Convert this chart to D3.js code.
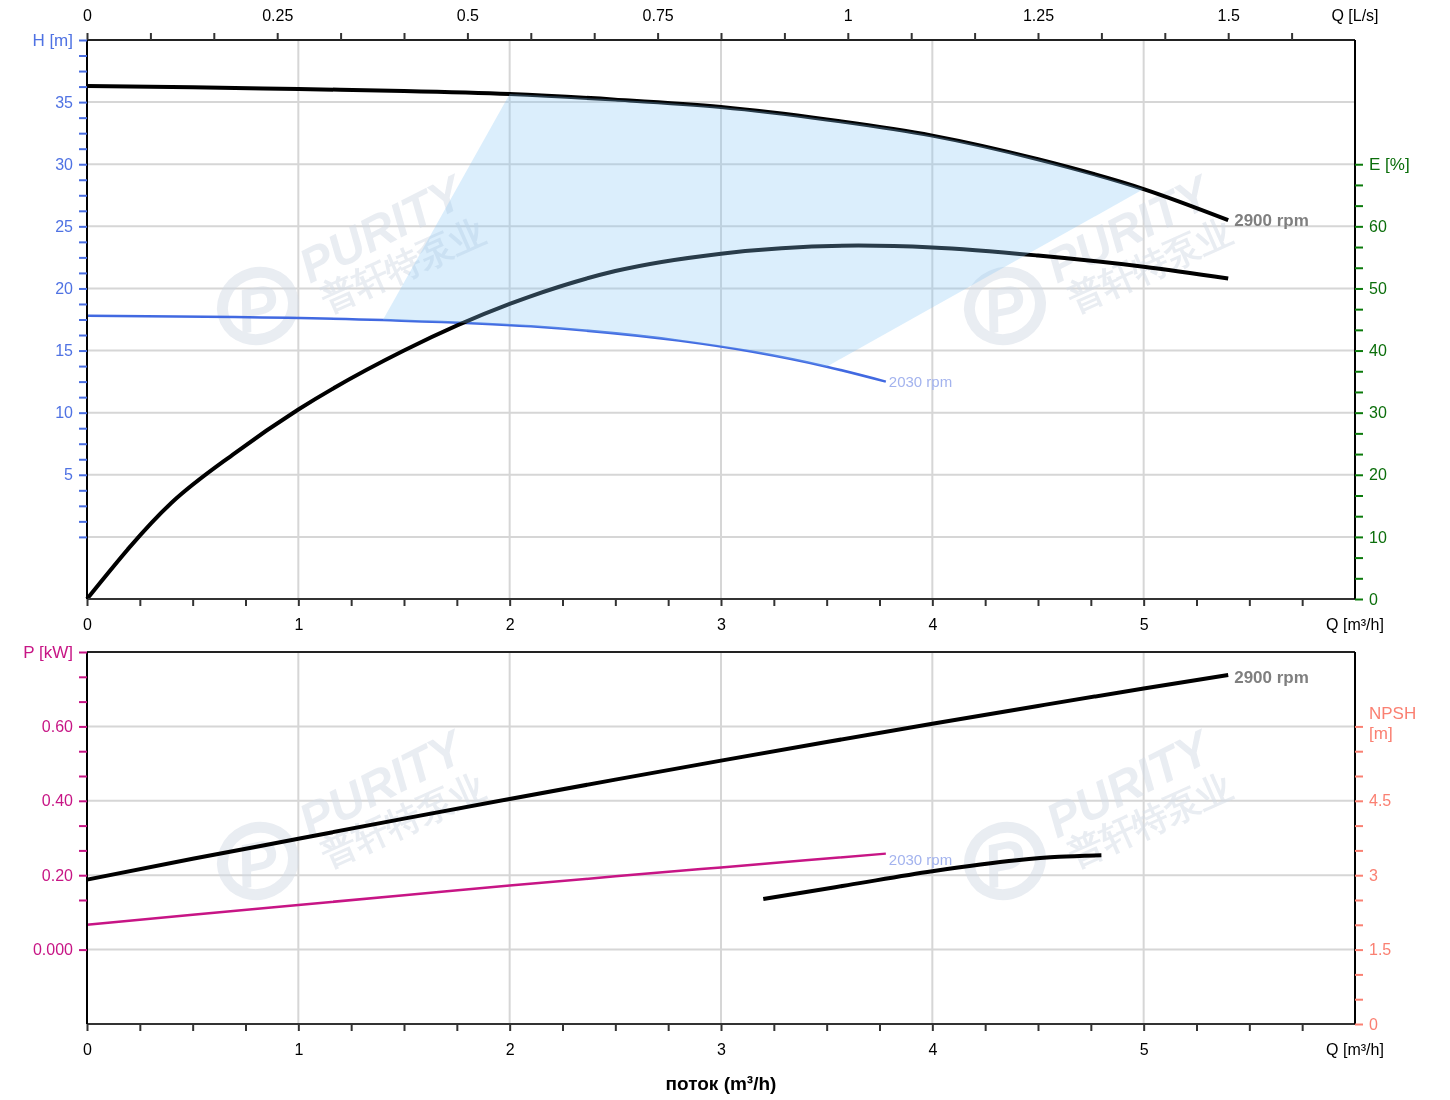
<!DOCTYPE html>
<html>
<head>
<meta charset="utf-8">
<script src="https://cdn.jsdelivr.net/npm/d3@7"></script>
<style>
  body { margin: 0; background: #fff; }
  svg text { font-family: "Liberation Sans", Arial, sans-serif; }
  .axis path.domain { display: none; }
</style>
</head>
<body>
<svg id="chart" width="1450" height="1100"></svg>
<script>
// ---- data ----
const flow2900 = [0, 0.5, 1, 1.5, 2, 2.5, 3, 3.5, 4, 4.5, 5, 5.4];
const head2900 = [36.3, 36.2, 36.05, 35.9, 35.65, 35.2, 34.6, 33.6, 32.3, 30.4, 28.0, 25.5];

const flow2030 = [0, 0.7, 1.4, 2.1, 2.8, 3.15, 3.5, 3.78];
const head2030 = [17.8, 17.7, 17.45, 16.95, 15.8, 14.9, 13.7, 12.5];

const effFlow = [0, 0.4, 0.7, 1, 1.5, 2, 2.5, 3, 3.65, 4, 4.5, 5, 5.4];
const effValues = [0, 15.5, 23.5, 30.5, 40, 47.5, 52.8, 55.6, 56.9, 56.6, 55.3, 53.5, 51.6];

const power2900 = [0.188, 0.244, 0.298, 0.352, 0.405, 0.457, 0.508, 0.558, 0.607, 0.655, 0.702, 0.738];
const power2030 = [0.067, 0.094, 0.12, 0.146, 0.172, 0.197, 0.221, 0.24, 0.258];
const powerFlow2030 = [0, 0.5, 1, 1.5, 2, 2.5, 3, 3.4, 3.78];

const npshFlow = [3.2, 3.6, 4, 4.4, 4.6, 4.8];
const npshValues = [2.52, 2.8, 3.08, 3.3, 3.37, 3.4];

// operating range (fill) corners, in flow
const rangeHigh = [2, 5];   // on 2900 rpm curve
const rangeLow = [1.4, 3.5]; // on 2030 rpm curve

// tick labels
const flowLabels = [0, 1, 2, 3, 4, 5];
const lsLabels = [0, 0.25, 0.5, 0.75, 1, 1.25, 1.5];
const headLabels = [5, 10, 15, 20, 25, 30, 35];
const effLabels = [0, 10, 20, 30, 40, 50, 60];
const powerLabels = [0, 0.2, 0.4, 0.6];
const npshLabels = [0, 1.5, 3, 4.5];

// ---- layout ----
const left = 87, right = 1355;
const top1 = 40, bottom1 = 599;
const top2 = 652, bottom2 = 1024;
const fs = 16;

const svg = d3.select("#chart");

const x = d3.scaleLinear().domain([0, 6]).range([left, right]);
const xLs = d3.scaleLinear().domain([0, 6 / 3.6]).range([left, right]);
const yH = d3.scaleLinear().domain([-5, 40]).range([bottom1, top1]);
const yE = d3.scaleLinear().domain([0, 90]).range([bottom1, top1]);
const yP = d3.scaleLinear().domain([-0.2, 0.8]).range([bottom2, top2]);
const yN = d3.scaleLinear().domain([0, 7.5]).range([bottom2, top2]);

const near = (a, b) => Math.abs(a - b) < 1e-6;
const fmtIf = (labels, fmt) => v => labels.some(l => near(l, v)) ? fmt(v) : "";

// ---- grid ----
const grid = svg.append("g").attr("stroke", "#d6d6d6").attr("stroke-width", 2);
[[top1, bottom1], [top2, bottom2]].forEach(([t, b]) => {
    grid.selectAll(null).data([1, 2, 3, 4, 5]).enter().append("line")
        .attr("x1", d => x(d)).attr("x2", d => x(d))
        .attr("y1", t).attr("y2", b);
});
grid.selectAll(null).data([0, 5, 10, 15, 20, 25, 30, 35]).enter().append("line")
    .attr("x1", left).attr("x2", right)
    .attr("y1", d => yH(d)).attr("y2", d => yH(d));
grid.selectAll(null).data([0, 0.2, 0.4, 0.6]).enter().append("line")
    .attr("x1", left).attr("x2", right)
    .attr("y1", d => yP(d)).attr("y2", d => yP(d));

// ---- watermark ----
function watermark(dx, dy) {
    const g = svg.append("g").attr("transform", `translate(${dx},${dy})`)
        .attr("fill", "#d3dae5").attr("opacity", 0.5);
    // logo swoosh
    g.append("ellipse").attr("cx", 258).attr("cy", 306).attr("rx", 36).attr("ry", 33)
        .attr("fill", "none").attr("stroke", "#d3dae5").attr("stroke-width", 11)
        .attr("transform", "rotate(-25 258 306)");
    g.append("text").attr("x", 236).attr("y", 330)
        .attr("font-size", 62).attr("font-weight", "bold").attr("font-style", "italic")
        .attr("transform", "rotate(-12 258 306)")
        .text("P");
    g.append("text").attr("x", 310).attr("y", 284)
        .attr("font-size", 48).attr("font-weight", "bold").attr("font-style", "italic")
        .attr("font-family", "DejaVu Sans")
        .attr("transform", "rotate(-27 310 284)")
        .text("PURITY");
    g.append("text").attr("x", 328).attr("y", 312)
        .attr("font-size", 35).attr("font-weight", "bold")
        .attr("font-family", "Noto Sans CJK SC")
        .attr("transform", "rotate(-24 328 312)")
        .text("普轩特泵业");
}
watermark(0, 0);
watermark(747, 0);
watermark(0, 555);
watermark(747, 555);

// ---- curves ----
const line = (xs, ys, xScale, yScale) => d3.line()
    .x((d, i) => xScale(xs[i]))
    .y(d => yScale(d))
    .curve(d3.curveMonotoneX)(ys);

const curves = svg.append("g").attr("fill", "none").attr("stroke-linecap", "butt");

curves.append("path").attr("d", line(flow2900, head2900, x, yH))
    .attr("stroke", "#000").attr("stroke-width", 4);
curves.append("path").attr("d", line(flow2030, head2030, x, yH))
    .attr("stroke", "#4169e1").attr("stroke-width", 2.5);
curves.append("path").attr("d", line(effFlow, effValues, x, yE))
    .attr("stroke", "#000").attr("stroke-width", 4);

curves.append("path").attr("d", line(flow2900, power2900, x, yP))
    .attr("stroke", "#000").attr("stroke-width", 4);
curves.append("path").attr("d", line(powerFlow2030, power2030, x, yP))
    .attr("stroke", "#c71585").attr("stroke-width", 2.5);
curves.append("path").attr("d", line(npshFlow, npshValues, x, yN))
    .attr("stroke", "#000").attr("stroke-width", 4);

// ---- operating range fill ----
const hi = flow2900.map((q, i) => [q, head2900[i]]).filter(p => p[0] >= rangeHigh[0] && p[0] <= rangeHigh[1]);
const lo = flow2030.map((q, i) => [q, head2030[i]]).filter(p => p[0] >= rangeLow[0] && p[0] <= rangeLow[1]);
const fillLine = d3.line().x(p => x(p[0])).y(p => yH(p[1])).curve(d3.curveCatmullRom);
const fillPath = fillLine(hi) + "L" + fillLine(lo.slice().reverse()).slice(1) + "Z";
svg.append("path").attr("d", fillPath)
    .attr("fill", "rgb(135,200,245)").attr("opacity", 0.3);

// ---- curve labels ----
const lastOf = a => a[a.length - 1];
svg.append("text").attr("x", x(lastOf(flow2900)) + 6).attr("y", yH(lastOf(head2900)))
    .attr("dy", "0.35em").attr("font-size", 17).attr("font-weight", "bold").attr("fill", "#7f7f7f")
    .text("2900 rpm");
svg.append("text").attr("x", x(lastOf(flow2030)) + 3).attr("y", yH(lastOf(head2030)))
    .attr("dy", "0.35em").attr("font-size", 15).attr("fill", "#a3b3ee")
    .text("2030 rpm");
svg.append("text").attr("x", x(lastOf(flow2900)) + 6).attr("y", yP(lastOf(power2900)) + 2)
    .attr("dy", "0.35em").attr("font-size", 17).attr("font-weight", "bold").attr("fill", "#7f7f7f")
    .text("2900 rpm");
svg.append("text").attr("x", x(lastOf(powerFlow2030)) + 3).attr("y", yP(lastOf(power2030)) + 6)
    .attr("dy", "0.35em").attr("font-size", 15).attr("fill", "#a3b3ee")
    .text("2030 rpm");

// ---- frames ----
[[top1, bottom1], [top2, bottom2]].forEach(([t, b]) => {
    const f = svg.append("g").attr("stroke-width", 2);
    f.append("line").attr("x1", left).attr("x2", right).attr("y1", t).attr("y2", t).attr("stroke", "#222");
    f.append("line").attr("x1", left).attr("x2", right).attr("y1", b).attr("y2", b).attr("stroke", "#333");
    f.append("line").attr("x1", left).attr("x2", left).attr("y1", t).attr("y2", b).attr("stroke", "#000");
    f.append("line").attr("x1", right).attr("x2", right).attr("y1", t).attr("y2", b).attr("stroke", "#000");
});

// ---- axes ----
function styleAxis(g, color, textColor) {
    g.attr("class", "axis").attr("font-size", fs);
    g.selectAll(".tick line").attr("stroke", color).attr("stroke-width", 2);
    g.selectAll(".tick text").attr("fill", textColor);
}

// top L/s axis
const lsTicks = d3.range(0, 20).map(i => i / 12);
svg.append("g").attr("transform", `translate(0,${top1})`)
    .call(d3.axisTop(xLs).tickValues(lsTicks).tickSize(7).tickPadding(12)
        .tickFormat(fmtIf(lsLabels, d3.format("~g"))))
    .call(g => styleAxis(g, "#333", "#000"));
svg.append("text").attr("x", right).attr("y", 21).attr("text-anchor", "middle")
    .attr("font-size", fs).text("Q [L/s]");

// bottom m³/h axes
const qTicks = d3.range(0, 24).map(i => i / 4);
[bottom1, bottom2].forEach(b => {
    svg.append("g").attr("transform", `translate(0,${b})`)
        .call(d3.axisBottom(x).tickValues(qTicks).tickSize(7).tickPadding(13)
            .tickFormat(fmtIf(flowLabels, d3.format("d"))))
        .call(g => styleAxis(g, "#333", "#000"));
    svg.append("text").attr("x", right).attr("y", b + 31).attr("text-anchor", "middle")
        .attr("font-size", fs).text("Q [m³/h]");
});

// H axis
const hTicks = d3.range(0, 33).map(i => i * 1.25);
svg.append("g").attr("transform", `translate(${left},0)`)
    .call(d3.axisLeft(yH).tickValues(hTicks).tickSize(8).tickPadding(6)
        .tickFormat(fmtIf(headLabels, d3.format("d"))))
    .call(g => styleAxis(g, "#4a6ee0", "#4f72e3"));
svg.append("text").attr("x", left - 14).attr("y", yH(40)).attr("dy", "0.35em")
    .attr("text-anchor", "end").attr("font-size", 17).attr("fill", "#4f72e3").text("H [m]");

// E axis
const eTicks = d3.range(0, 22).map(i => i * 10 / 3);
svg.append("g").attr("transform", `translate(${right},0)`)
    .call(d3.axisRight(yE).tickValues(eTicks).tickSize(8).tickPadding(6)
        .tickFormat(fmtIf(effLabels, d3.format("d"))))
    .call(g => styleAxis(g, "#0b7a0b", "#0b6e0b"));
svg.append("text").attr("x", right + 14).attr("y", yE(70)).attr("dy", "0.35em")
    .attr("font-size", 17).attr("fill", "#0b6e0b").text("E [%]");

// P axis
const pTicks = d3.range(0, 13).map(i => i * 0.2 / 3).filter(v => !near(v, 0.2 / 3));
svg.append("g").attr("transform", `translate(${left},0)`)
    .call(d3.axisLeft(yP).tickValues(pTicks).tickSize(8).tickPadding(6)
        .tickFormat(fmtIf(powerLabels, v => near(v, 0) ? "0.000" : d3.format(".2f")(v))))
    .call(g => styleAxis(g, "#c71585", "#c71585"));
svg.append("text").attr("x", left - 14).attr("y", yP(0.8)).attr("dy", "0.35em")
    .attr("text-anchor", "end").attr("font-size", 17).attr("fill", "#c71585").text("P [kW]");

// NPSH axis
const nTicks = d3.range(0, 13).map(i => i * 0.5);
svg.append("g").attr("transform", `translate(${right},0)`)
    .call(d3.axisRight(yN).tickValues(nTicks).tickSize(8).tickPadding(6)
        .tickFormat(fmtIf(npshLabels, d3.format("~g"))))
    .call(g => styleAxis(g, "#fa8072", "#fa8072"));
svg.append("text").attr("x", right + 14).attr("y", yN(6) - 13).attr("dy", "0.35em")
    .attr("font-size", 17).attr("fill", "#fa8072").text("NPSH");
svg.append("text").attr("x", right + 14).attr("y", yN(6) + 7).attr("dy", "0.35em")
    .attr("font-size", 17).attr("fill", "#fa8072").text("[m]");

// title
svg.append("text").attr("x", (left + right) / 2).attr("y", 1083).attr("dy", "0.35em")
    .attr("text-anchor", "middle").attr("font-size", 19).attr("font-weight", "bold")
    .text("поток (m³/h)");
</script>
</body>
</html>
